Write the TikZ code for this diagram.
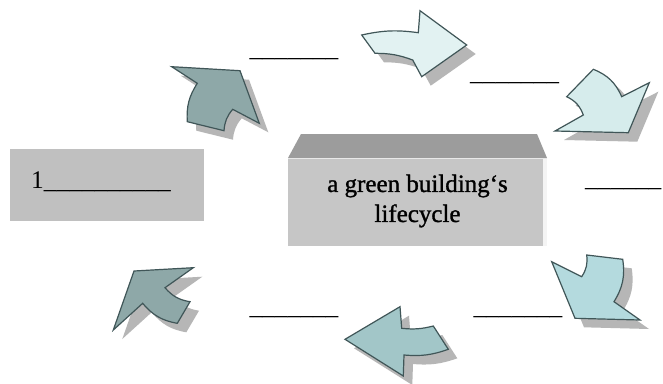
\documentclass[tikz,border=0pt]{standalone}
\usepackage{fontspec}
\setmainfont{Liberation Serif}
\newfontfamily\heavyserif[FakeBold=1.2]{Liberation Serif}
\begin{document}
\begin{tikzpicture}[x=1pt,y=-1pt,
  arr/.style={draw={rgb,255:red,64;green,86;blue,88},line width=1.2pt,line join=miter},
  shade/.style={fill={rgb,255:red,182;green,182;blue,182},shift={(9,9)}},
  blank/.style={anchor=base west,inner sep=0pt,font=\fontsize{25.4}{30}\selectfont},
  lbl/.style={inner sep=0pt,align=center,font=\heavyserif\fontsize{25}{30}\selectfont}]
\definecolor{tealdark}{RGB}{142,168,168}
\definecolor{palecyan}{RGB}{226,242,242}
\definecolor{lightcyan}{RGB}{214,236,236}
\definecolor{midcyan}{RGB}{180,218,222}
\definecolor{softteal}{RGB}{162,198,200}
\definecolor{boxgray}{RGB}{192,192,192}
\definecolor{topgray}{RGB}{156,156,156}
\definecolor{frontgray}{RGB}{198,198,198}
\useasboundingbox (0,0) rectangle (663,383);
\fill[white] (0,0) rectangle (663,383);

% outlines of the six curved block arrows
\def\pathNE{(171.7,66.7) -- (240,70.7) -- (259.3,123.3) -- (232.7,109.3) to[bend right=18] (224,130.7) -- (187.3,121.7) to[bend left=18] (197.3,83.3) -- cycle}
\def\pathE{(361.7,35) to[bend left=10] (418.3,32.7) -- (420,10.7) -- (466.7,45) -- (421.7,76.7) -- (412.7,60) to[bend right=10] (375,53.3) -- cycle}
\def\pathSE{(593.3,69.3) to[bend left=22] (621.7,96.7) -- (649.3,82.7) -- (628.3,132.7) -- (555,131) -- (583.3,115) to[bend right=22] (566.7,96.7) -- cycle}
\def\pathS{(551.7,261.7) -- (581.7,276.7) to[bend right=20] (586.7,255) -- (622.7,259.3) to[bend left=20] (614,301.7) -- (640,320) -- (575,318.3) -- cycle}
\def\pathW{(345,339.3) -- (400,306.7) -- (401.7,328.3) to[bend right=10] (433.3,326) -- (448.3,349.3) to[bend left=12] (404,355) -- (403.3,376) -- cycle}
\def\pathNW{(134,271) -- (193.3,267.7) -- (165,287.7) to[bend right=20] (190,301.7) -- (177.3,323.3) to[bend left=20] (142.7,303.3) -- (113.3,330) -- cycle}

% drop shadows
\fill[shade] \pathNE;
\fill[shade] \pathE;
\fill[shade] \pathSE;
\fill[shade] \pathS;
\fill[shade] \pathW;
\fill[shade] \pathNW;

% arrow bodies
\filldraw[arr,fill=tealdark] \pathNE;
\filldraw[arr,fill=palecyan] \pathE;
\filldraw[arr,fill=lightcyan] \pathSE;
\filldraw[arr,fill=midcyan] \pathS;
\filldraw[arr,fill=softteal] \pathW;
\filldraw[arr,fill=tealdark] \pathNW;

% first step box
\fill[boxgray] (10,149) rectangle (204,221);
\node[blank] (first) at (31,188) {1\_\_\_\_\_\_\_\_\_\_};

% central block
\fill[topgray] (301,134) -- (537,134) -- (547,158) -- (288,158) -- cycle;
\fill[frontgray] (288,158) rectangle (547,246);
\fill[white!80!frontgray] (543,158) rectangle (547,246);
\draw[white!60!frontgray,line width=0.8pt] (288,158) -- (547,158);
\node[lbl] (center) at (417.5,201) {a green building‘s\\lifecycle};

% blanks around the cycle
\node[blank] (b1) at (249.3,56.3) {\_\_\_\_\_\_\_};
\node[blank] (b2) at (470,80.7) {\_\_\_\_\_\_\_};
\node[blank] (b3) at (585,186.3) {\_\_\_\_\_\_};
\node[blank] (b4) at (473.3,314.7) {\_\_\_\_\_\_\_};
\node[blank] (b5) at (249.3,314.7) {\_\_\_\_\_\_\_};
\end{tikzpicture}
\end{document}
